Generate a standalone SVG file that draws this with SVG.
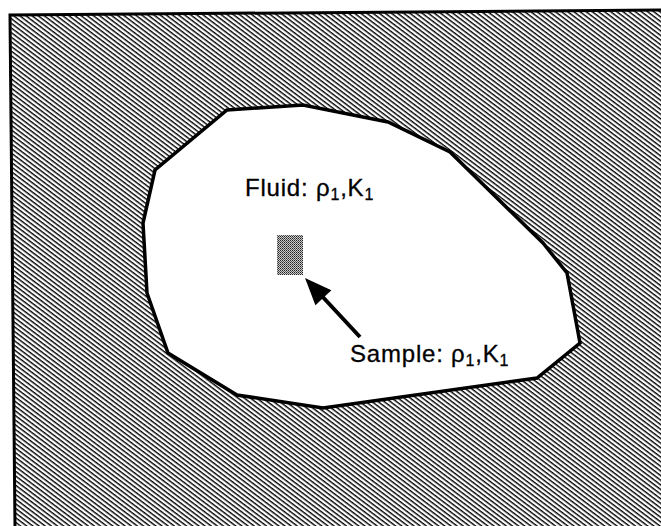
<svg xmlns="http://www.w3.org/2000/svg" width="661" height="526" viewBox="0 0 661 526">
<style>
.lbl{font-family:"Liberation Sans",Arial,Helvetica,sans-serif;font-size:24px;fill:#000;stroke:#000;stroke-width:0.3;letter-spacing:0.8px}
.sub{font-size:16px}
.outline{fill:none;stroke:#000;stroke-width:3.5;stroke-linejoin:miter}
.frame{fill:none;stroke:#000;stroke-width:3}
</style>
<defs>
<pattern id="hatch" patternUnits="userSpaceOnUse" width="20" height="3.7" patternTransform="rotate(37)">
<rect x="0" y="0" width="20" height="1.4" fill="#000"/>
</pattern>
<pattern id="dither" patternUnits="userSpaceOnUse" width="2" height="2">
<rect width="2" height="2" fill="#ccc"/>
<rect width="1" height="1" fill="#222"/>
<rect x="1" y="1" width="1" height="1" fill="#555"/>
</pattern>
</defs>
<rect width="661" height="526" fill="#fff"/>
<g id="solid">
<path fill="url(#hatch)" fill-rule="evenodd" d="M11,15 L661,10 L661,526 L15,526 Z M227,110 L303,105 L388,122 L450,152 L543,243 L567,273 L580,343 L537,378 L323,408 L237,395 L168,353 L147,293 L143,223 L155,170 Z"/>
<polyline class="frame" points="15,527 10,15 661,10"/>
</g>
<g id="fluid">
<polygon class="outline" points="227,110 303,105 388,122 450,152 543,243 567,273 580,343 537,378 323,408 237,395 168,353 147,293 143,223 155,170"/>
<text class="lbl" x="245" y="196">Fluid: ρ<tspan class="sub" dy="4">1</tspan><tspan dy="-4">,K</tspan><tspan class="sub" dy="4">1</tspan></text>
</g>
<g id="sample">
<rect x="277" y="235" width="26" height="40" fill="url(#dither)"/>
<text class="lbl" x="350" y="362">Sample: ρ<tspan class="sub" dy="4">1</tspan><tspan dy="-4">,K</tspan><tspan class="sub" dy="4">1</tspan></text>
</g>
<g id="connectors">
<line x1="360" y1="337" x2="320" y2="294" stroke="#000" stroke-width="4"/>
<polygon points="305,278 331.4,290.2 315.4,305.2" fill="#000"/>
</g>
</svg>
